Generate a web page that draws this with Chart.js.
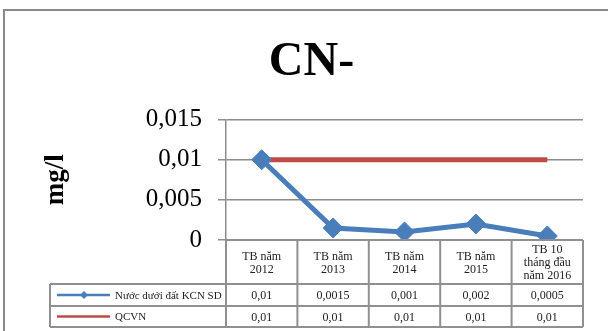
<!DOCTYPE html>
<html>
<head>
<meta charset="utf-8">
<script src="https://cdn.jsdelivr.net/npm/chart.js@4.4.0/dist/chart.umd.min.js"></script>
<style>
  html, body { margin: 0; padding: 0; background: #fff; }
  #wrap { width: 608px; height: 331px; position: relative; }
</style>
</head>
<body>
<div id="wrap"><canvas id="chart"></canvas></div>
<script>
// chart data
const categories = [
  ['TB năm', '2012'],
  ['TB năm', '2013'],
  ['TB năm', '2014'],
  ['TB năm', '2015'],
  ['TB 10', 'tháng đầu', 'năm 2016']
];
const groundwater = [0.01, 0.0015, 0.001, 0.002, 0.0005];
const qcvn = [0.01, 0.01, 0.01, 0.01, 0.01];
const seriesNames = ['Nước dưới đất KCN SD', 'QCVN'];
const yTicks = [0, 0.005, 0.01, 0.015];
const yTickLabels = ['0', '0,005', '0,01', '0,015'];

const BLUE = '#4A7EBB';
const RED = '#BE4B48';
const GRID = '#8c8c8c';
const SERIF = '"Liberation Serif", "Times New Roman", serif';
const PAD_LEFT = 40;

const fmt = v => String(v).replace('.', ',');

// Outer frame + data table under the plot
const tablePlugin = {
  id: 'dataTable',
  beforeDraw(chart) {
    const ctx = chart.ctx;
    ctx.save();
    ctx.strokeStyle = '#8a8a8a';
    ctx.lineWidth = 2;
    ctx.strokeRect(4, 10, 640, 360);
    ctx.restore();
  },
  afterDraw(chart) {
    const { ctx, chartArea } = chart;
    const xs = chart.scales.x;
    const n = categories.length;
    const colW = (chartArea.right - chartArea.left) / n;
    const top = chartArea.bottom;
    const headBottom = top + 44;
    const row1Bottom = headBottom + 22;
    const row2Bottom = row1Bottom + 21;
    const tableLeft = 50;

    ctx.save();
    ctx.strokeStyle = '#909090';
    ctx.lineWidth = 2;

    // horizontal lines
    ctx.beginPath();
    ctx.moveTo(chartArea.left, top); ctx.lineTo(chartArea.right, top);
    [headBottom, row1Bottom, row2Bottom].forEach(y => {
      ctx.moveTo(tableLeft, y); ctx.lineTo(chartArea.right, y);
    });
    // vertical lines
    for (let i = 0; i <= n; i++) {
      const x = chartArea.left + i * colW;
      ctx.moveTo(x, top); ctx.lineTo(x, row2Bottom);
    }
    ctx.moveTo(tableLeft, headBottom); ctx.lineTo(tableLeft, row2Bottom);
    ctx.stroke();

    // header text
    ctx.fillStyle = '#222';
    ctx.font = '12px ' + SERIF;
    ctx.textAlign = 'center';
    ctx.textBaseline = 'middle';
    categories.forEach((lines, i) => {
      const cx = xs.getPixelForValue(i);
      const lh = 13;
      const y0 = (top + headBottom) / 2 - (lines.length - 1) * lh / 2 + 1;
      lines.forEach((t, k) => ctx.fillText(t, cx, y0 + k * lh));
    });

    // value rows
    const rowsData = [groundwater, qcvn];
    const rowMid = [(headBottom + row1Bottom) / 2, (row1Bottom + row2Bottom) / 2];
    rowsData.forEach((vals, r) => {
      vals.forEach((v, i) => ctx.fillText(fmt(v), xs.getPixelForValue(i), rowMid[r] + 1));
    });

    // legend keys
    ctx.textAlign = 'left';
    ctx.font = '11px ' + SERIF;
    const keyColors = [BLUE, RED];
    seriesNames.forEach((name, r) => {
      const y = rowMid[r];
      ctx.strokeStyle = keyColors[r];
      ctx.lineWidth = 2.5;
      ctx.beginPath();
      ctx.moveTo(57, y); ctx.lineTo(110, y);
      ctx.stroke();
      if (r === 0) {
        ctx.fillStyle = BLUE;
        ctx.beginPath();
        ctx.moveTo(84, y - 4); ctx.lineTo(88, y); ctx.lineTo(84, y + 4); ctx.lineTo(80, y);
        ctx.closePath();
        ctx.fill();
      }
      ctx.fillStyle = '#222';
      ctx.fillText(name, 115, y + 1);
    });
    ctx.restore();
  }
};

new Chart(document.getElementById('chart'), {
  type: 'line',
  data: {
    labels: categories.map(c => c.join(' ')),
    datasets: [
      {
        label: seriesNames[0],
        data: groundwater,
        borderColor: BLUE,
        backgroundColor: BLUE,
        borderWidth: 5,
        pointStyle: 'rectRot',
        pointRadius: 10,
        pointBorderWidth: 1,
        pointBackgroundColor: BLUE,
        pointBorderColor: BLUE,
        tension: 0
      },
      {
        label: seriesNames[1],
        data: qcvn,
        borderColor: RED,
        backgroundColor: RED,
        borderWidth: 5,
        pointRadius: 0,
        tension: 0
      }
    ]
  },
  options: {
    responsive: true,
    maintainAspectRatio: false,
    animation: false,
    devicePixelRatio: 1,
    layout: { padding: { left: PAD_LEFT, right: 25, top: 0, bottom: 91 } },
    plugins: {
      legend: { display: false },
      tooltip: { enabled: false },
      title: {
        display: true,
        text: 'CN-',
        color: '#000',
        font: { family: SERIF, size: 48, weight: 'bold' },
        padding: { top: 34, bottom: 28 }
      }
    },
    scales: {
      x: { display: false, offset: true },
      y: {
        min: 0,
        max: 0.015,
        afterFit(scale) { scale.width = 226 - PAD_LEFT; },
        afterBuildTicks(scale) { scale.ticks = yTicks.map(v => ({ value: v })); },
        ticks: {
          color: '#000',
          font: { family: SERIF, size: 25 },
          padding: 16,
          callback: (v, i) => yTickLabels[i]
        },
        grid: { color: GRID, lineWidth: 1.5, tickLength: 8 },
        border: { color: GRID, width: 1.5 },
        title: {
          display: true,
          text: 'mg/l',
          color: '#000',
          font: { family: SERIF, size: 27, weight: 'bold' },
          padding: { top: 0, bottom: 0 }
        }
      }
    }
  },
  plugins: [tablePlugin]
});
</script>
</body>
</html>
